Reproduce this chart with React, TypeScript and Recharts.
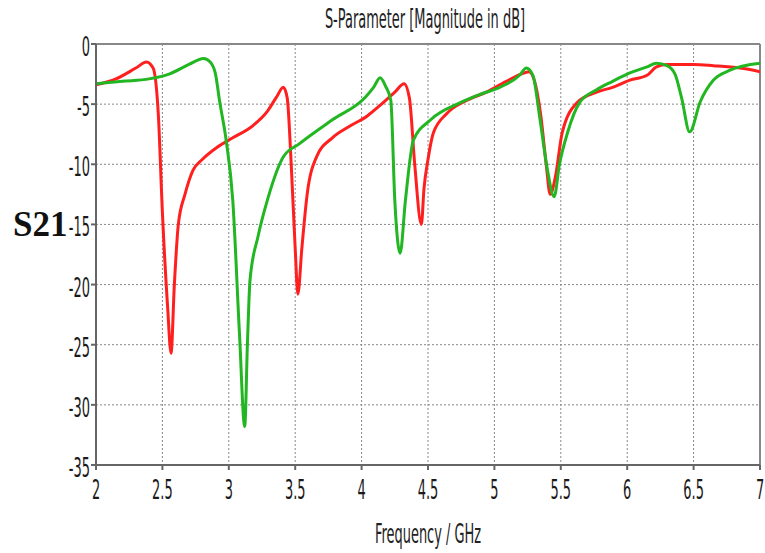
import { CartesianGrid, Line, LineChart, ReferenceLine, XAxis, YAxis } from "recharts";

const X_TICKS = [2, 2.5, 3, 3.5, 4, 4.5, 5, 5.5, 6, 6.5, 7];
const Y_TICKS = [0, -5, -10, -15, -20, -25, -30, -35];

const redFreq = [
  2.0, 2.15, 2.3, 2.38, 2.43, 2.47, 2.5, 2.54, 2.565, 2.59, 2.62, 2.67, 2.73, 2.8, 2.91, 3.03,
  3.18, 3.29, 3.36, 3.41, 3.44, 3.47, 3.5, 3.52, 3.55, 3.59, 3.66, 3.78, 3.9, 4.04, 4.15, 4.25,
  4.32, 4.36, 4.4, 4.45, 4.47, 4.5, 4.54, 4.64, 4.79, 4.94, 5.09, 5.2, 5.26, 5.3, 5.35, 5.39,
  5.42, 5.46, 5.51, 5.62, 5.77, 5.89, 6.02, 6.15, 6.22, 6.3, 6.5, 6.65, 6.85, 7.0,
];
const redDb = [
  -3.4, -2.9, -2.0, -1.5, -2.0, -6, -14, -22, -25.7, -20, -15, -12.5, -10.5, -9.6, -8.6, -7.8,
  -6.8, -5.6, -4.4, -3.6, -4.5, -10, -17, -20.8, -17, -12.5, -9.4, -7.8, -6.9, -6.0, -5.0, -4.0,
  -3.3, -4.5, -10, -15, -12, -9.6, -7.4, -5.8, -4.7, -4.0, -3.1, -2.5, -2.3, -3.0, -6, -10,
  -12.5, -11, -7.4, -4.9, -4.0, -3.6, -3.0, -2.6, -1.9, -1.7, -1.7, -1.8, -2.0, -2.3,
];

const greenFreq = [
  2.0, 2.2, 2.4, 2.55, 2.7, 2.81, 2.86, 2.9, 2.93, 2.98, 3.03, 3.08, 3.12, 3.14, 3.16, 3.22,
  3.29, 3.41, 3.53, 3.78, 4.03, 4.09, 4.14, 4.18, 4.22, 4.25, 4.29, 4.33, 4.39, 4.52, 4.74, 4.89,
  5.04, 5.19, 5.24, 5.29, 5.34, 5.4, 5.45, 5.49, 5.55, 5.64, 5.77, 5.89, 6.02, 6.15, 6.22, 6.3,
  6.36, 6.41, 6.47, 6.55, 6.65, 6.77, 7.0,
];
const greenDb = [
  -3.3, -3.1, -2.9, -2.5, -1.7, -1.2, -1.5, -2.5, -4.7, -8, -13, -24, -31.8, -25, -19.6, -16,
  -13, -9.4, -8.3, -6.3, -4.4, -3.6, -2.8, -3.5, -4.7, -13, -17.4, -13, -8, -6.3, -4.9, -4.2,
  -3.6, -2.6, -2.0, -2.6, -6, -10.5, -12.7, -10, -7.4, -4.9, -3.8, -3.1, -2.4, -1.9, -1.6, -1.8,
  -2.5, -4.5, -7.3, -4.8, -3.0, -2.2, -1.6,
];

const redData = redFreq.map((f, i) => ({ f, v: redDb[i] }));
const greenData = greenFreq.map((f, i) => ({ f, v: greenDb[i] }));

const FONT = "'DejaVu Sans', sans-serif";
const SQUEEZE = 0.48;
const FS = 27;

const XTick = ({ x, y, payload }: any) => (
  <g transform={`translate(${x},${y + 27})`}>
    <text transform={`scale(${SQUEEZE},1)`} textAnchor="middle" fontFamily={FONT} fontSize={FS} fill="#1a1a1a">
      {payload.value}
    </text>
  </g>
);

const YTick = ({ x, y, payload }: any) => (
  <g transform={`translate(${x + 1},${y + 12})`}>
    <text transform={`scale(${SQUEEZE},1)`} textAnchor="end" fontFamily={FONT} fontSize={FS} fill="#1a1a1a">
      {payload.value}
    </text>
  </g>
);

export default function App() {
  return (
    <div style={{ position: "absolute", left: 0, top: 0, width: 765, height: 553, background: "#fff" }}>
      <LineChart width={765} height={553} margin={{ top: 44, right: 5, bottom: 58, left: 51 }}>
        <CartesianGrid stroke="#888" strokeDasharray="2 2" />
        <XAxis
          type="number"
          dataKey="f"
          domain={[2, 7]}
          ticks={X_TICKS}
          allowDataOverflow
          height={30}
          tickSize={5}
          tick={<XTick />}
          stroke="#666"
          strokeWidth={2}
        />
        <YAxis
          type="number"
          dataKey="v"
          domain={[-35, 0]}
          ticks={Y_TICKS}
          allowDataOverflow
          width={45}
          tickSize={5}
          tick={<YTick />}
          stroke="#666"
          strokeWidth={2}
        />
        <ReferenceLine y={0} stroke="#888" strokeWidth={2} />
        <ReferenceLine x={7} stroke="#888" strokeWidth={2} />
        <Line
          data={redData}
          dataKey="v"
          type="monotone"
          stroke="#ff1f1f"
          strokeWidth={3}
          dot={false}
          isAnimationActive={false}
        />
        <Line
          data={greenData}
          dataKey="v"
          type="monotone"
          stroke="#22b622"
          strokeWidth={3}
          dot={false}
          isAnimationActive={false}
        />
      </LineChart>
      <svg width={765} height={553} style={{ position: "absolute", left: 0, top: 0, pointerEvents: "none" }}>
        <g transform="translate(425,28)">
          <text transform={`scale(${SQUEEZE},1)`} textAnchor="middle" fontFamily={FONT} fontSize={FS} fill="#222">
            S-Parameter [Magnitude in dB]
          </text>
        </g>
        <g transform="translate(428,543)">
          <text transform={`scale(${SQUEEZE},1)`} textAnchor="middle" fontFamily={FONT} fontSize={FS} fill="#222">
            Frequency / GHz
          </text>
        </g>
        <text x={13} y={236} fontFamily="'Liberation Serif', serif" fontWeight="bold" fontSize={35} fill="#111">
          S21
        </text>
      </svg>
    </div>
  );
}
